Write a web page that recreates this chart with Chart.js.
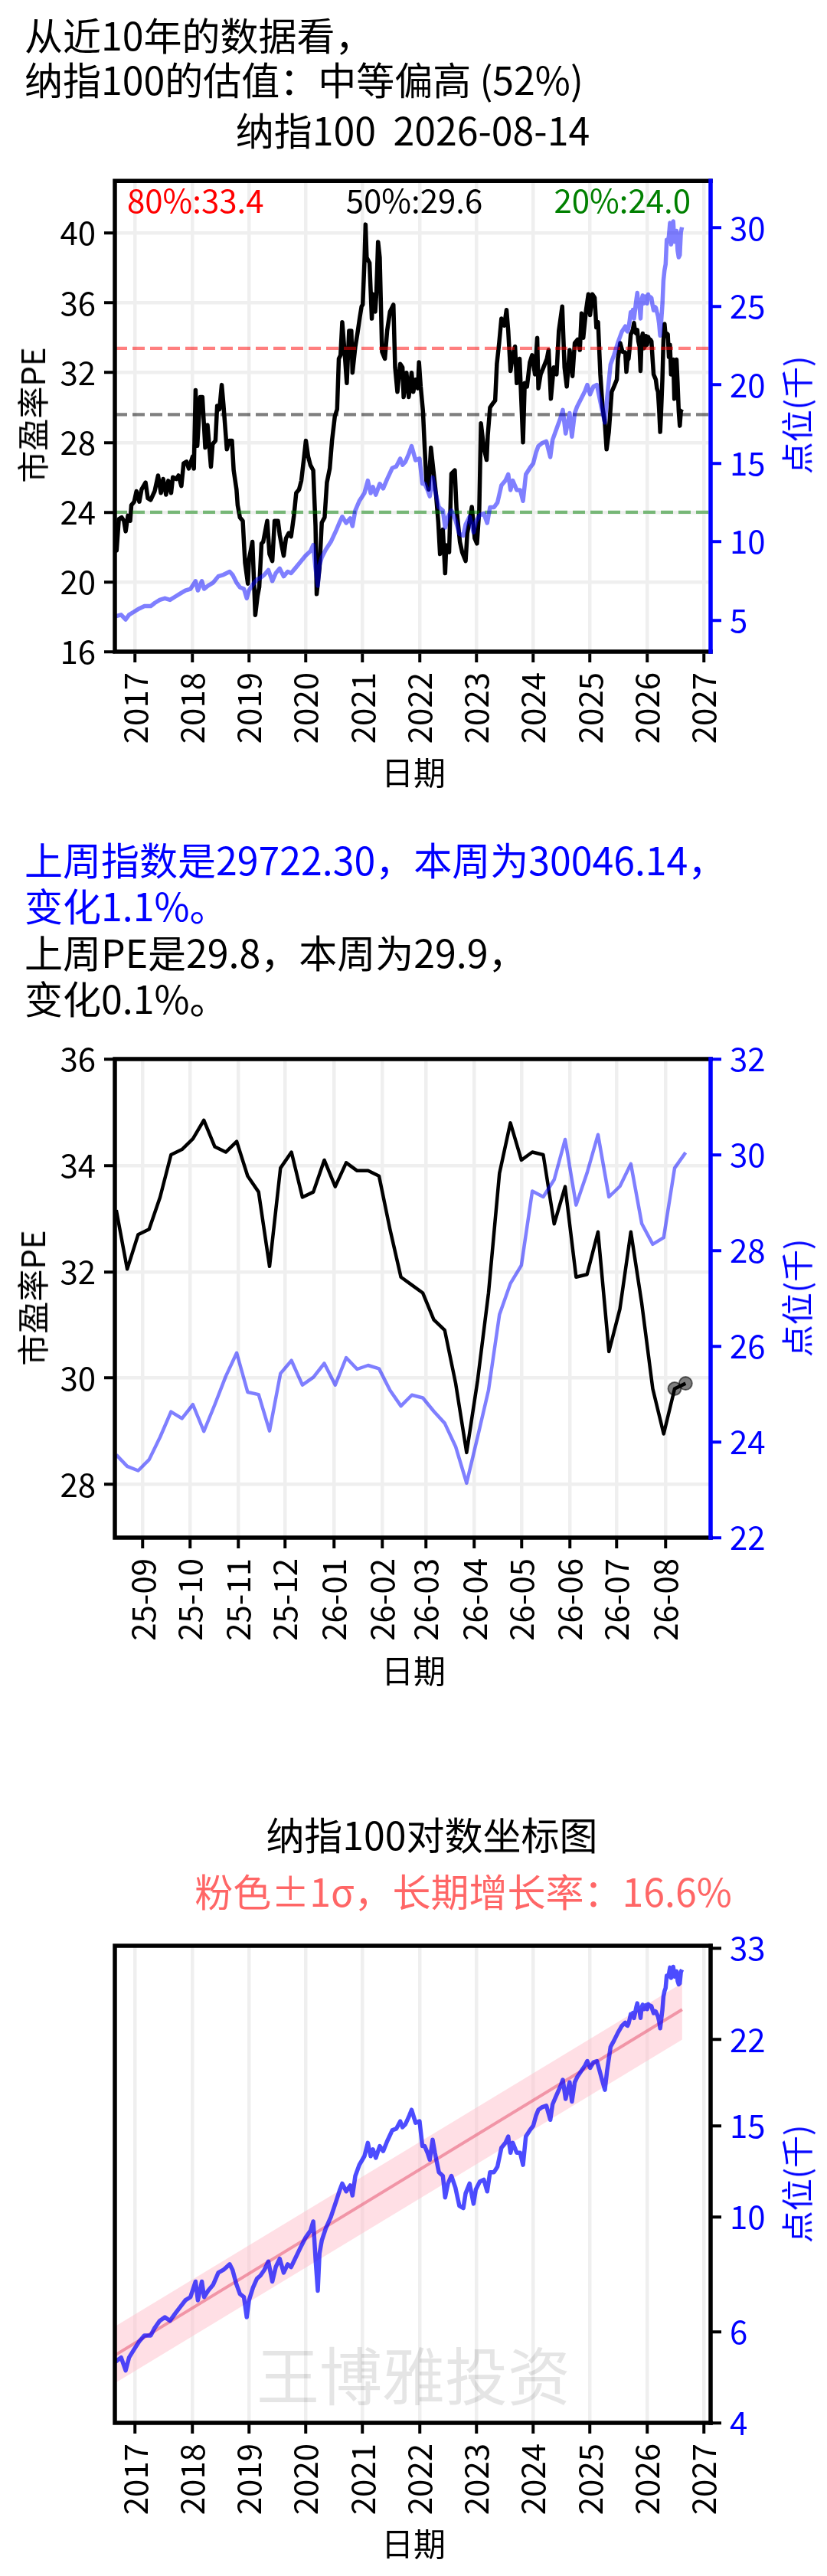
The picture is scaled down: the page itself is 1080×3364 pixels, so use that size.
<!DOCTYPE html>
<html><head><meta charset="utf-8">
<script src="https://cdn.jsdelivr.net/npm/chart.js@4.4.1/dist/chart.umd.min.js"></script>
<style>
html,body{margin:0;padding:0;background:#fff;}
body{width:1080px;height:3364px;position:relative;overflow:hidden;font-family:'Noto Sans CJK SC','Noto Sans',sans-serif;}
canvas{position:absolute;left:0;}
.t{position:absolute;white-space:pre;line-height:1;}
</style></head><body>
<canvas id="c1" width="1080" height="880" style="top:200px;width:1080px;height:880px"></canvas>
<canvas id="c2" width="1080" height="900" style="top:1340px;width:1080px;height:900px"></canvas>
<canvas id="c3" width="1080" height="864" style="top:2500px;width:1080px;height:864px"></canvas>
<script>
// ---------------- DATA ----------------
// Nasdaq-100 PE history (decimal year, PE)
const peHistory = [[2016.65,23.4],[2016.67,21.8],[2016.71,23.6],[2016.76,23.7],[2016.80,23.5],[2016.83,22.9],[2016.87,23.8],[2016.91,23.5],[2016.93,24.4],[2016.98,24.6],
[2017.02,25.2],[2017.07,24.6],[2017.11,25.3],[2017.18,25.7],[2017.22,24.8],[2017.27,24.7],[2017.34,25.2],[2017.40,26.1],[2017.45,25.1],[2017.49,25.9],
[2017.54,25.0],[2017.58,25.8],[2017.63,25.1],[2017.66,26.0],[2017.72,25.9],[2017.76,26.1],[2017.81,25.5],[2017.85,26.8],[2017.90,26.9],[2017.94,26.5],
[2018.01,27.2],[2018.03,26.5],[2018.06,31.0],[2018.09,27.8],[2018.14,30.6],[2018.18,30.6],[2018.23,27.7],[2018.27,29.0],[2018.33,26.6],[2018.36,27.9],
[2018.41,28.1],[2018.44,30.1],[2018.48,29.9],[2018.52,31.3],[2018.55,30.2],[2018.61,27.6],[2018.65,28.1],[2018.70,28.1],[2018.73,26.4],[2018.78,25.3],
[2018.80,24.4],[2018.84,23.7],[2018.89,23.5],[2018.93,21.1],[2018.98,19.9],[2019.00,21.3],[2019.06,22.3],[2019.11,18.1],[2019.15,19.2],[2019.18,19.7],
[2019.22,22.2],[2019.25,22.3],[2019.32,23.5],[2019.36,21.6],[2019.41,21.2],[2019.45,23.5],[2019.51,23.5],[2019.54,22.7],[2019.58,22.0],[2019.61,21.5],
[2019.65,22.5],[2019.70,22.8],[2019.74,22.6],[2019.79,23.8],[2019.83,25.1],[2019.88,25.3],[2019.92,25.8],[2019.97,27.2],[2020.00,28.1],[2020.04,27.2],
[2020.08,26.7],[2020.13,26.4],[2020.17,23.2],[2020.19,19.3],[2020.24,20.8],[2020.28,23.4],[2020.33,23.7],[2020.37,25.7],[2020.42,26.5],[2020.46,28.1],
[2020.51,29.5],[2020.55,29.9],[2020.58,32.8],[2020.61,33.0],[2020.64,34.9],[2020.69,32.8],[2020.72,31.4],[2020.76,34.4],[2020.80,34.4],[2020.82,32.0],
[2020.87,33.5],[2020.91,34.3],[2020.95,35.2],[2020.98,35.8],[2021.00,35.9],[2021.03,38.3],[2021.05,40.5],[2021.07,38.6],[2021.12,38.3],[2021.16,35.1],
[2021.18,36.5],[2021.22,35.5],[2021.24,36.5],[2021.27,39.5],[2021.30,38.6],[2021.34,33.2],[2021.39,32.8],[2021.43,34.4],[2021.48,35.5],[2021.54,35.9],
[2021.57,32.3],[2021.61,30.9],[2021.66,32.5],[2021.70,32.3],[2021.72,30.6],[2021.77,32.0],[2021.81,30.6],[2021.86,32.0],[2021.89,30.9],[2021.93,31.6],
[2021.97,31.1],[2021.99,32.6],[2022.02,31.2],[2022.06,29.8],[2022.09,27.7],[2022.12,25.8],[2022.16,25.3],[2022.20,27.7],[2022.25,26.2],[2022.29,25.0],
[2022.33,23.4],[2022.36,21.6],[2022.41,23.0],[2022.45,20.5],[2022.47,22.1],[2022.52,21.7],[2022.56,26.2],[2022.62,26.4],[2022.65,24.2],[2022.71,22.3],
[2022.75,21.7],[2022.81,21.2],[2022.84,22.8],[2022.88,23.5],[2022.92,24.3],[2022.97,22.5],[2023.01,22.2],[2023.05,24.1],[2023.08,29.1],[2023.13,27.7],
[2023.18,27.0],[2023.20,28.4],[2023.24,30.0],[2023.28,30.2],[2023.33,30.4],[2023.36,32.5],[2023.40,33.7],[2023.44,35.1],[2023.49,34.7],[2023.53,35.6],
[2023.56,34.4],[2023.60,32.1],[2023.64,33.0],[2023.68,33.5],[2023.71,31.4],[2023.76,32.8],[2023.82,28.0],[2023.85,31.4],[2023.89,31.2],[2023.94,32.6],
[2023.98,33.0],[2024.03,31.9],[2024.07,34.0],[2024.09,31.1],[2024.13,31.9],[2024.18,32.3],[2024.24,32.8],[2024.27,33.3],[2024.31,30.5],[2024.36,32.3],
[2024.41,31.9],[2024.45,34.4],[2024.48,35.1],[2024.51,35.8],[2024.55,32.3],[2024.59,31.2],[2024.64,33.3],[2024.69,31.8],[2024.73,33.7],[2024.78,33.9],
[2024.82,33.3],[2024.85,35.4],[2024.88,34.0],[2024.93,35.6],[2024.97,36.5],[2025.00,35.3],[2025.04,36.5],[2025.08,36.3],[2025.11,34.6],[2025.14,34.9],
[2025.18,31.9],[2025.22,30.0],[2025.26,29.1],[2025.29,27.6],[2025.33,28.6],[2025.38,30.9],[2025.42,31.2],[2025.47,31.6],[2025.49,32.8],[2025.53,33.7],
[2025.57,33.2]];

// Nasdaq-100 index level history (decimal year, thousands of points)
const indexHistory = [[2016.65,5.25],[2016.75,5.35],[2016.83,5.05],[2016.89,5.35],[2016.98,5.55],[2017.07,5.75],[2017.16,5.9],[2017.27,5.9],[2017.34,6.1],[2017.43,6.3],
[2017.52,6.4],[2017.61,6.3],[2017.70,6.5],[2017.79,6.7],[2017.88,6.9],[2017.97,7.0],[2018.06,7.5],[2018.10,6.9],[2018.17,7.5],[2018.21,7.0],
[2018.28,7.2],[2018.37,7.4],[2018.46,7.8],[2018.55,7.9],[2018.66,8.1],[2018.71,7.9],[2018.78,7.4],[2018.84,7.1],[2018.91,7.0],[2018.96,6.4],
[2019.00,6.9],[2019.07,7.3],[2019.14,7.6],[2019.20,7.7],[2019.27,7.9],[2019.34,8.2],[2019.41,7.5],[2019.47,8.0],[2019.54,8.3],[2019.61,7.8],
[2019.68,8.1],[2019.74,8.0],[2019.81,8.3],[2019.90,8.7],[2019.99,9.1],[2020.08,9.4],[2020.13,9.8],[2020.17,8.3],[2020.21,7.2],[2020.24,8.5],
[2020.28,9.0],[2020.35,9.5],[2020.44,10.0],[2020.53,10.7],[2020.60,11.3],[2020.64,11.6],[2020.71,11.2],[2020.78,11.5],[2020.82,11.0],[2020.87,12.0],
[2020.94,12.6],[2021.03,13.1],[2021.09,13.9],[2021.14,13.1],[2021.18,13.5],[2021.23,13.0],[2021.30,13.7],[2021.36,13.4],[2021.43,14.0],[2021.52,14.7],
[2021.59,14.8],[2021.66,15.3],[2021.70,14.9],[2021.75,15.1],[2021.81,15.6],[2021.86,16.1],[2021.93,15.2],[2022.00,15.3],[2022.05,13.7],[2022.09,13.7],
[2022.14,13.3],[2022.18,12.9],[2022.23,14.1],[2022.27,13.3],[2022.34,12.2],[2022.41,12.0],[2022.45,10.9],[2022.50,11.6],[2022.56,12.0],[2022.63,11.4],
[2022.70,10.5],[2022.77,10.4],[2022.81,11.1],[2022.88,11.6],[2022.95,10.6],[2022.99,11.3],[2023.06,11.7],[2023.13,11.8],[2023.19,11.2],[2023.24,12.2],
[2023.31,12.2],[2023.37,12.5],[2023.44,13.6],[2023.51,13.9],[2023.56,14.3],[2023.60,13.3],[2023.64,13.9],[2023.71,13.3],[2023.77,13.3],[2023.82,12.6],
[2023.87,14.3],[2023.94,14.7],[2024.00,15.0],[2024.05,15.7],[2024.09,16.1],[2024.16,16.3],[2024.23,16.4],[2024.30,15.4],[2024.34,16.5],[2024.41,17.2],
[2024.48,17.9],[2024.52,18.4],[2024.57,16.9],[2024.64,18.2],[2024.68,16.7],[2024.73,18.2],[2024.77,18.6],[2024.84,19.1],[2024.91,19.6],[2024.95,20.0],
[2025.00,19.4],[2025.06,19.9],[2025.12,20.0],[2025.17,19.1],[2025.21,18.4],[2025.26,17.6],[2025.30,19.2],[2025.36,21.3],[2025.42,21.9],[2025.49,22.7],
[2025.56,23.4]];

// Last 53 weeks (weekly, starting 2025-08-15)
const recentStart = '2025-08-15';
const recentPE = [33.16,32.05,32.7,32.8,33.4,34.2,34.3,34.5,34.85,34.35,34.25,34.45,33.8,33.5,32.1,33.95,34.25,33.4,33.5,34.1,
33.6,34.05,33.9,33.9,33.8,32.8,31.9,31.75,31.6,31.1,30.9,29.9,28.6,29.95,31.6,33.85,34.8,34.1,34.25,34.2,
32.9,33.6,31.9,31.95,32.75,30.5,31.3,32.75,31.4,29.8,28.95,29.8,29.9];
const recentIndex = [23.73,23.49,23.4,23.63,24.1,24.63,24.49,24.78,24.22,24.78,25.37,25.86,25.04,24.99,24.23,25.43,25.7,25.19,25.35,25.64,
25.19,25.76,25.52,25.6,25.53,25.08,24.75,24.98,24.92,24.64,24.39,23.9,23.14,24.1,25.08,26.66,27.31,27.69,29.24,29.12,
29.48,30.32,28.95,29.62,30.42,29.12,29.34,29.81,28.56,28.13,28.27,29.7223,30.04614];

// PE percentile levels
const peLevelNames = ['80%','50%','20%'];
const peLevels = [33.4, 29.6, 24.0];

// Log chart: trend line and ±1σ band at the start/end of the data
const trendYears = [2016.65, 2026.62];
const trendValues = [5.41, 25.15];
const bandUpper = [6.15, 28.3];
const bandLower = [4.78, 22.0];

// Tick values / labels
const yearTicks = [2017,2018,2019,2020,2021,2022,2023,2024,2025,2026,2027];
const peTicks1 = [16,20,24,28,32,36,40];
const idxTicks1 = [5,10,15,20,25,30];
const peTicks2 = [28,30,32,34,36];
const idxTicks2 = [22,24,26,28,30,32];
const monthLabels = ['25-09','25-10','25-11','25-12','26-01','26-02','26-03','26-04','26-05','26-06','26-07','26-08'];
const logTicks = [4,6,10,15,22,33];

// ---------------- HELPERS ----------------
const FONT = "'Noto Sans CJK SC'";
const DAY = 86400000;
const t0 = Date.parse(recentStart + 'T00:00:00Z');
const yearOf = (ms) => { const d = new Date(ms); const y = d.getUTCFullYear(); const s = Date.UTC(y,0,1), e = Date.UTC(y+1,0,1); return y + (ms - s)/(e - s); };
const recentDays = recentPE.map((_, i) => i * 7);
const recentYears = recentDays.map(d => yearOf(t0 + d * DAY));
const monthDays = monthLabels.map(l => (Date.UTC(2000 + +l.slice(0,2), +l.slice(3) - 1, 1) - t0) / DAY);

const peSeries = peHistory.map(p => ({x:p[0], y:p[1]})).concat(recentPE.map((v,i)=>({x:recentYears[i], y:v})));
const idxSeries = indexHistory.map(p => ({x:p[0], y:p[1]})).concat(recentIndex.map((v,i)=>({x:recentYears[i], y:v})));

const X1MIN = 2016.64, X1MAX = 2027.12;

const baseCache = {};
function baselineOf(size) {
  if (baseCache[size] !== undefined) return baseCache[size];
  const p = document.createElement('div');
  p.className = 't';
  p.style.cssText = `left:0;top:0;font-size:${size}px;visibility:hidden;`;
  p.innerHTML = '国<span style="display:inline-block;width:1px;height:0;vertical-align:baseline"></span>';
  document.body.appendChild(p);
  const b = p.lastChild.offsetTop;
  document.body.removeChild(p);
  return (baseCache[size] = b);
}
// (x, y) = visual centre of the CJK glyph row
function addText(str, x, y, size, color, anchor, rot) {
  const b = baselineOf(size);
  const glyphCenter = b - 0.38 * size; // distance from box top to ideograph centre
  const d = document.createElement('div');
  d.className = 't';
  d.textContent = str;
  d.style.fontSize = size + 'px';
  d.style.color = color || '#000';
  if (rot) {
    const shift = glyphCenter - size / 2;
    d.style.left = (x - shift) + 'px';
    d.style.top = y + 'px';
    d.style.transform = `translate(-50%,-50%) rotate(${rot}deg)`;
  } else {
    d.style.left = x + 'px';
    d.style.top = (y - glyphCenter) + 'px';
    const tx = anchor === 'center' ? '-50%' : anchor === 'right' ? '-100%' : '0';
    d.style.transform = `translateX(${tx})`;
  }
  document.body.appendChild(d);
}

const fixTicks = (vals) => (scale) => { scale.ticks = vals.map(v => ({value: v})); };
const fixW = (w) => (s) => { s.width = w; };
const fixH = (h) => (s) => { s.height = h; };

const framePlugin = {
  id: 'frame',
  afterDatasetsDraw(chart, args, opts) {
    const {ctx, chartArea: a} = chart;
    const w = opts.width || 4;
    ctx.save();
    ctx.lineWidth = w;
    ctx.lineCap = 'square';
    ctx.strokeStyle = '#000';
    ctx.beginPath();
    ctx.moveTo(a.right, a.top); ctx.lineTo(a.left, a.top); ctx.lineTo(a.left, a.bottom); ctx.lineTo(a.right, a.bottom);
    ctx.stroke();
    ctx.strokeStyle = opts.rightColor || '#000';
    ctx.beginPath(); ctx.moveTo(a.right, a.top); ctx.lineTo(a.right, a.bottom); ctx.stroke();
    ctx.restore();
  }
};

const GRID = '#efefef';
const TICK = {drawTicks: true, tickLength: 14, tickWidth: 4};
function xAxis(min, max, ticks, labelFn, height, grid) {
  return {
    type: 'linear', position: 'bottom', min, max,
    afterBuildTicks: fixTicks(ticks), afterFit: fixH(height),
    border: {display: false},
    grid: Object.assign({display: true, drawOnChartArea: grid, color: GRID, lineWidth: 4.5, tickColor: '#000'}, TICK),
    ticks: {autoSkip: false, minRotation: 90, maxRotation: 90, padding: 13, color: '#000', font: {family: FONT, size: 42}, callback: labelFn}
  };
}
function yAxis(pos, min, max, ticks, width, color, tickColor, grid, type) {
  return {
    type: type || 'linear', position: pos, min, max,
    afterBuildTicks: fixTicks(ticks), afterFit: fixW(width),
    border: {display: false},
    grid: Object.assign({display: true, drawOnChartArea: grid, color: GRID, lineWidth: 4.5, tickColor: tickColor}, TICK),
    ticks: {autoSkip: false, padding: 11, color: color, font: {family: FONT, size: 42}, callback: (v) => String(v)}
  };
}
const base = {
  responsive: false, animation: false, devicePixelRatio: 1,
  plugins: {legend: {display: false}, tooltip: {enabled: false}},
  elements: {point: {radius: 0}, line: {tension: 0, borderJoinStyle: 'round'}}
};

// ---------------- CHART 1 ----------------
const levelColors = ['rgba(255,0,0,0.5)', 'rgba(0,0,0,0.5)', 'rgba(0,128,0,0.5)'];
new Chart(document.getElementById('c1'), {
  type: 'line',
  data: {datasets: [
    {data: idxSeries, yAxisID: 'y2', borderColor: 'rgba(0,0,255,0.5)', borderWidth: 5.5, order: 0},
    ...peLevels.map((v, i) => ({data: [{x: X1MIN, y: v}, {x: X1MAX, y: v}], yAxisID: 'y', borderColor: levelColors[i], borderWidth: 4.2, borderDash: [16, 7], order: 1})),
    {data: peSeries, yAxisID: 'y', borderColor: '#000', borderWidth: 5.5, order: 2}
  ]},
  options: Object.assign({}, base, {
    layout: {padding: {top: 33, left: 0, right: 0, bottom: 0}},
    scales: {
      x: xAxis(X1MIN, X1MAX, yearTicks, (v) => String(v), 229, true),
      y: yAxis('left', 16, 43, peTicks1, 150, '#000', '#000', true),
      y2: yAxis('right', 3, 33, idxTicks1, 152, '#0000ff', '#0000ff', false)
    },
    plugins: Object.assign({}, base.plugins, {frame: {width: 5.5, rightColor: '#0000ff'}})
  }),
  plugins: [framePlugin]
});

// ---------------- CHART 2 ----------------
const n = recentPE.length;
new Chart(document.getElementById('c2'), {
  type: 'line',
  data: {datasets: [
    {data: recentIndex.map((v, i) => ({x: recentDays[i], y: v})), yAxisID: 'y2', borderColor: 'rgba(0,0,255,0.5)', borderWidth: 4.5, order: 0},
    {data: recentPE.slice(n - 2).map((v, i) => ({x: recentDays[n - 2 + i], y: v})), yAxisID: 'y', showLine: false, pointRadius: 8.5,
     pointBackgroundColor: 'rgba(0,0,0,0.5)', pointBorderColor: 'rgba(0,0,0,0.55)', pointBorderWidth: 2, order: 1},
    {data: recentPE.map((v, i) => ({x: recentDays[i], y: v})), yAxisID: 'y', borderColor: '#000', borderWidth: 4.5, order: 2}
  ]},
  options: Object.assign({}, base, {
    layout: {padding: {top: 43, left: 0, right: 0, bottom: 0}},
    scales: {
      x: xAxis(-0.9, 380, monthDays, (v) => monthLabels[monthDays.indexOf(v)], 232, true),
      y: yAxis('left', 27, 36, peTicks2, 150, '#000', '#000', true),
      y2: yAxis('right', 22, 32, idxTicks2, 152, '#0000ff', '#0000ff', false)
    },
    plugins: Object.assign({}, base.plugins, {frame: {width: 5.5, rightColor: '#0000ff'}})
  }),
  plugins: [framePlugin]
});

// ---------------- CHART 3 ----------------
new Chart(document.getElementById('c3'), {
  type: 'line',
  data: {datasets: [
    {data: idxSeries, yAxisID: 'y2', borderColor: 'rgba(0,0,255,0.7)', borderWidth: 5.5, order: 0},
    {data: trendYears.map((x, i) => ({x, y: trendValues[i]})), yAxisID: 'y2', borderColor: 'rgba(225,60,90,0.45)', borderWidth: 4, order: 1},
    {data: trendYears.map((x, i) => ({x, y: bandUpper[i]})), yAxisID: 'y2', borderWidth: 0, borderColor: 'rgba(0,0,0,0)', fill: '+1', backgroundColor: 'rgba(255,192,203,0.5)', order: 2},
    {data: trendYears.map((x, i) => ({x, y: bandLower[i]})), yAxisID: 'y2', borderWidth: 0, borderColor: 'rgba(0,0,0,0)', order: 3}
  ]},
  options: Object.assign({}, base, {
    layout: {padding: {top: 41, left: 150, right: 0, bottom: 0}},
    scales: {
      x: xAxis(X1MIN, X1MAX, yearTicks, (v) => String(v), 200, true),
      y2: yAxis('right', 4, 33.4, logTicks, 152, '#0000ff', '#000', false, 'logarithmic')
    },
    plugins: Object.assign({}, base.plugins, {frame: {width: 5.5, rightColor: '#000'}})
  }),
  plugins: [framePlugin]
});

// ---------------- TEXT ----------------
addText('从近10年的数据看，', 32, 47, 50, '#000', 'left');
addText('纳指100的估值：中等偏高 (52%)', 32, 105, 50, '#000', 'left');
addText('纳指100  2026-08-14', 539, 171, 50, '#000', 'center');
const levelText = ['#ff0000', '#000000', '#008000'];
addText(peLevelNames[0] + ':' + peLevels[0].toFixed(1), 166, 262, 42, levelText[0], 'left');
addText(peLevelNames[1] + ':' + peLevels[1].toFixed(1), 541, 262, 42, levelText[1], 'center');
addText(peLevelNames[2] + ':' + peLevels[2].toFixed(1), 902, 262, 42, levelText[2], 'right');
addText('市盈率PE', 43, 542, 42, '#000', 'center', -90);
addText('点位(千)', 1041, 542, 42, '#0000ff', 'center', -90);
addText('日期', 540, 1009, 42, '#000', 'center');

const lastIdx = recentIndex[n - 2] * 1000, thisIdx = recentIndex[n - 1] * 1000;
addText('上周指数是' + lastIdx.toFixed(2) + '，本周为' + thisIdx.toFixed(2) + '，', 32, 1124, 50, '#0000ff', 'left');
addText('变化' + ((thisIdx / lastIdx - 1) * 100).toFixed(1) + '%。', 32, 1184, 50, '#0000ff', 'left');
addText('上周PE是' + recentPE[n - 2].toFixed(1) + '，本周为' + recentPE[n - 1].toFixed(1) + '，', 32, 1245, 50, '#000', 'left');
addText('变化0.1%。', 32, 1305, 50, '#000', 'left');
addText('市盈率PE', 43, 1695, 42, '#000', 'center', -90);
addText('点位(千)', 1041, 1695, 42, '#0000ff', 'center', -90);
addText('日期', 540, 2182, 42, '#000', 'center');

addText('纳指100对数坐标图', 564, 2397, 50, '#000', 'center');
addText('粉色±1σ，长期增长率：16.6%', 605, 2471, 50, '#ff6666', 'center');
addText('王博雅投资', 540, 3103, 82, 'rgba(0,0,0,0.1)', 'center');
addText('点位(千)', 1041, 2852, 42, '#0000ff', 'center', -90);
addText('日期', 540, 3322, 42, '#000', 'center');
</script>
</body></html>
